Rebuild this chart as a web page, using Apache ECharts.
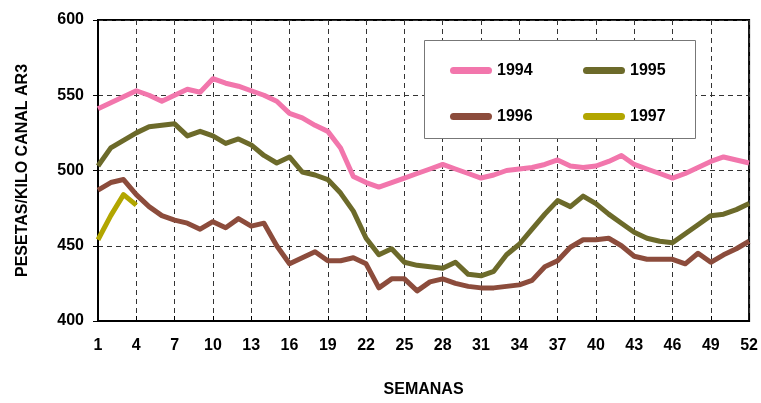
<!DOCTYPE html>
<html>
<head>
<meta charset="utf-8">
<script src="https://cdn.jsdelivr.net/npm/echarts@6/dist/echarts.min.js"></script>
<style>
html,body{margin:0;padding:0;background:#fff;}
#c{width:761px;height:403px;}
</style>
</head>
<body>
<div id="c"></div>
<script>
var weeks = [1,2,3,4,5,6,7,8,9,10,11,12,13,14,15,16,17,18,19,20,21,22,23,24,25,26,
  27,28,29,30,31,32,33,34,35,36,37,38,39,40,41,42,43,44,45,46,47,48,49,50,51,52];
var yTicks = [400, 450, 500, 550, 600];
var seriesNames = ['1994', '1995', '1996', '1997'];

var s1994 = [541,545,549,553,550,546,550,554,552,561,558,556,553,550,546,538,535,530,526,515,
  496,492,489,492,495,498,501,504,501,498,495,497,500,501,502,504,507,503,502,503,
  506,510,504,501,498,495,498,502,506,509,507,505];
var s1995 = [503,515,520,525,529,530,531,523,526,523,518,521,517,510,505,509,499,497,494,485,
  473,455,444,448,439,437,436,435,439,431,430,433,444,451,461,471,480,476,483,478,
  471,465,459,455,453,452,458,464,470,471,474,478];
var s1996 = [487,492,494,484,476,470,467,465,461,466,462,468,463,465,450,438,442,446,440,440,
  442,438,422,428,428,420,426,428,425,423,422,422,423,424,427,436,440,449,454,454,
  455,450,443,441,441,441,438,445,439,444,448,453];
var s1997 = [454,470,484,477];

var colors = ['#F276AC', '#6C6A2A', '#8C4C3C', '#B2A600'];

var chart = echarts.init(document.getElementById('c'), null, {renderer: 'canvas'});
var font = 'Liberation Sans, Arial, sans-serif';
var pill = 'path://M3.5,0 L38.5,0 A3.5,3.5 0 0 1 38.5,7 L3.5,7 A3.5,3.5 0 0 1 3.5,0 Z';

function mk(name, data, color) {
  return {
    name: name, type: 'line', data: data, symbol: 'none', smooth: false,
    lineStyle: {color: color, width: 5, join: 'round'},
    itemStyle: {color: color},
    animation: false, z: 3
  };
}

var legendCommon = {
  orient: 'vertical', padding: 0, itemWidth: 42, itemHeight: 7, itemGap: 29,
  icon: pill, z: 20, selectedMode: false,
  textStyle: {fontFamily: font, fontWeight: 'bold', fontSize: 16, color: '#000', lineHeight: 17}
};

chart.setOption({
  backgroundColor: '#fff',
  animation: false,
  color: colors,
  grid: {left: 98, right: 9, top: 20, bottom: 75, show: true, borderColor: '#000', borderWidth: 2, backgroundColor: 'transparent'},
  graphic: [{
    type: 'rect', z: 15, left: 424, top: 40,
    shape: {width: 271, height: 98},
    style: {fill: '#fff', stroke: '#777', lineWidth: 1}
  }],
  legend: [
    Object.assign({}, legendCommon, {data: [seriesNames[0], seriesNames[2]], left: 450, top: 62}),
    Object.assign({}, legendCommon, {data: [seriesNames[1], seriesNames[3]], left: 583, top: 62})
  ],
  xAxis: {
    type: 'category', data: weeks, boundaryGap: false,
    name: 'SEMANAS', nameLocation: 'middle', nameGap: 61,
    nameTextStyle: {fontFamily: font, fontWeight: 'bold', fontSize: 16, color: '#000'},
    axisLine: {lineStyle: {color: '#000', width: 2}},
    axisTick: {show: true, inside: true, length: 5, interval: 2, lineStyle: {color: '#000'}},
    axisLabel: {interval: 2, margin: 17, fontFamily: font, fontWeight: 'bold', fontSize: 16, color: '#000'},
    splitLine: {show: true, interval: 2, lineStyle: {color: '#333', width: 1, type: [5, 4]}}
  },
  yAxis: {
    type: 'value', min: yTicks[0], max: yTicks[yTicks.length - 1], interval: 50,
    name: 'PESETAS/KILO CANAL AR3', nameLocation: 'middle', nameGap: 67, nameRotate: 90,
    nameTextStyle: {fontFamily: font, fontWeight: 'bold', fontSize: 16, color: '#000'},
    axisLine: {show: true, lineStyle: {color: '#000', width: 2}},
    axisTick: {show: true, inside: false, length: 5, lineStyle: {color: '#000'}},
    axisLabel: {margin: 14, fontFamily: font, fontWeight: 'bold', fontSize: 16, color: '#000'},
    splitLine: {show: true, lineStyle: {color: '#333', width: 1, type: [5, 4]}}
  },
  series: [
    mk(seriesNames[0], s1994, colors[0]),
    mk(seriesNames[1], s1995, colors[1]),
    mk(seriesNames[2], s1996, colors[2]),
    mk(seriesNames[3], s1997, colors[3])
  ]
});
</script>
</body>
</html>
